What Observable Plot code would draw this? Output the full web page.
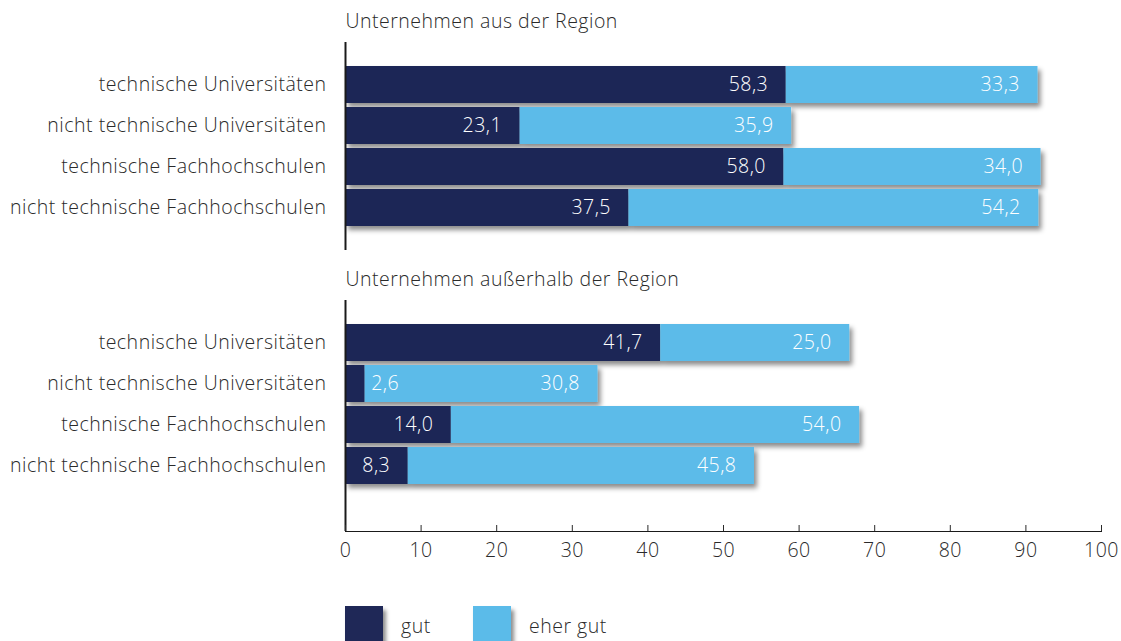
<!DOCTYPE html>
<html>
<head>
<meta charset="utf-8">
<script src="https://cdn.jsdelivr.net/npm/d3@7"></script>
<script src="https://cdn.jsdelivr.net/npm/@observablehq/plot@0.6"></script>
<style>
  html, body { margin: 0; padding: 0; background: #fff; width: 1121px; height: 641px; overflow: hidden; }
  body { font-family: "Open Sans", sans-serif; color: #2a2a2a; position: relative; }
  #top { position: absolute; left: 0; top: 0; }
  #bottom { position: absolute; left: 0; top: 255px; }
  #legend { position: absolute; left: 345px; top: 606px; display: flex; align-items: flex-start; font-size: 19.5px; font-weight: 300; letter-spacing: 0.5px; }
  .item { display: flex; align-items: flex-start; margin-right: 0; }
  .sw { width: 38px; height: 38px; box-shadow: 3px 4px 4px rgba(0,0,0,0.45); }
  .lab { margin-left: 18px; margin-top: 7px; line-height: 26px; }
</style>
</head>
<body>
<div id="top"></div>
<div id="bottom"></div>
<div id="legend"></div>
<script>
const categories = ["technische Universitäten", "nicht technische Universitäten", "technische Fachhochschulen", "nicht technische Fachhochschulen"];
const series = ["gut", "eher gut"];
const panels = ["Unternehmen aus der Region", "Unternehmen außerhalb der Region"];
const gutRegion = [58.3, 23.1, 58.0, 37.5];
const eherGutRegion = [33.3, 35.9, 34.0, 54.2];
const gutAusser = [41.7, 2.6, 14.0, 8.3];
const eherGutAusser = [25.0, 30.8, 54.0, 45.8];
const xTicks = [0, 10, 20, 30, 40, 50, 60, 70, 80, 90, 100];
const colors = ["#1f2857", "#5bbbe9"];

const fmt = v => v.toFixed(1).replace(".", ",");

function buildData(gut, eher) {
  const rows = [];
  categories.forEach((c, i) => {
    rows.push({cat: c, series: series[0], value: gut[i]});
    rows.push({cat: c, series: series[1], value: eher[i]});
  });
  return rows;
}

function addShadow(svg, id) {
  const defs = d3.select(svg).insert("defs", ":first-child");
  const f = defs.append("filter").attr("id", id).attr("x", "-10%").attr("y", "-30%").attr("width", "130%").attr("height", "180%");
  f.append("feDropShadow").attr("dx", 3).attr("dy", 4).attr("stdDeviation", 2.5)
    .attr("flood-color", "#000").attr("flood-opacity", 0.45);
  d3.select(svg).selectAll('g[aria-label="bar"]').attr("filter", `url(#${id})`);
}

function panel(title, data, opts) {
  const marks = [
    Plot.barX(data, {x: "value", y: "cat", fill: "series"}),
    Plot.text(data, Plot.stackX2({x: "value", y: "cat", z: "series",
      text: d => d.value >= 5 ? fmt(d.value) : null, textAnchor: "end", dx: -18, fill: "white"})),
    Plot.text(data, Plot.stackX2({x: "value", y: "cat", z: "series",
      text: d => d.value < 5 ? fmt(d.value) : null, textAnchor: "start", dx: 6, fill: "white"})),
    Plot.ruleX([0], {stroke: "#1a1a1a", strokeWidth: 2}),
    Plot.axisY({tickSize: 0, tickPadding: 19, label: null}),
    Plot.text([title], {text: d => d, frameAnchor: "top-left", textAnchor: "start", lineAnchor: "bottom", dy: -15, fill: "#2a2a2a"})
  ];
  if (opts.xAxis) {
    marks.push(Plot.frame({anchor: "bottom", stroke: "#1a1a1a"}));
    marks.push(Plot.axisX({ticks: xTicks, tickSize: -6, tickPadding: 18, label: null, tickFormat: d => String(d)}));
  }
  return Plot.plot({
    width: 1121,
    height: opts.height,
    marginLeft: 345,
    marginRight: 20,
    marginTop: opts.marginTop,
    marginBottom: opts.marginBottom,
    style: {fontFamily: "Open Sans, sans-serif", fontSize: "19.5px", fontWeight: 300, letterSpacing: "0.5px", color: "#2a2a2a", background: "transparent", overflow: "visible"},
    x: {domain: [0, 100], axis: opts.xAxis ? undefined : null},
    y: {domain: categories, paddingInner: 0.09, paddingOuter: 0.54, insetBottom: opts.insetBottom || 0, axis: null},
    color: {domain: series, range: colors},
    marks
  });
}

const topChart = panel(panels[0], buildData(gutRegion, eherGutRegion), {height: 255, marginTop: 42, marginBottom: 5, xAxis: false});
addShadow(topChart, "sh1");
document.getElementById("top").appendChild(topChart);

const bottomChart = panel(panels[1], buildData(gutAusser, eherGutAusser), {height: 321, marginTop: 45, marginBottom: 45, insetBottom: 23, xAxis: true});
addShadow(bottomChart, "sh2");
document.getElementById("bottom").appendChild(bottomChart);

const legend = d3.select("#legend");
series.forEach((s, i) => {
  const it = legend.append("div").attr("class", "item").style("width", i === 0 ? "128px" : null);
  it.append("div").attr("class", "sw").style("background", colors[i]);
  it.append("div").attr("class", "lab").text(s);
});
</script>
</body>
</html>
